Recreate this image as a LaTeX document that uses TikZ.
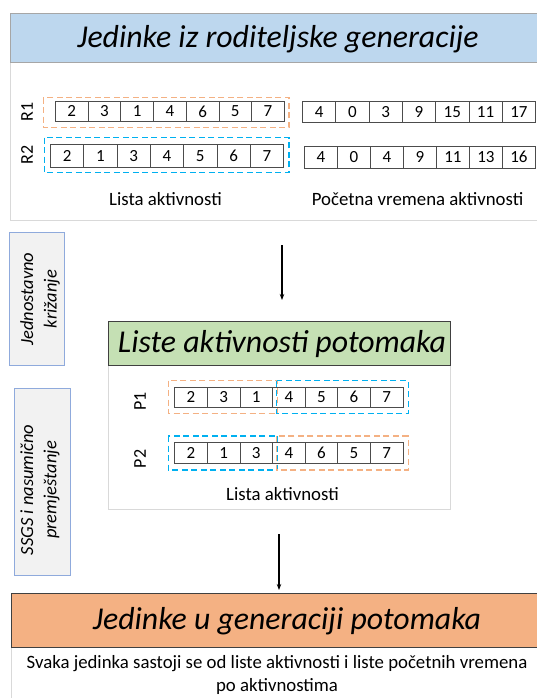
\documentclass[tikz,border=0pt]{standalone}
\usepackage{fontspec}
\setmainfont{Carlito}
\usetikzlibrary{arrows.meta}
\definecolor{hblue}{HTML}{BDD7EE}
\definecolor{hgreen}{HTML}{C5E0B4}
\definecolor{horange}{HTML}{F4B183}
\definecolor{dorange}{HTML}{F4B183}
\definecolor{dblue}{HTML}{00B0F0}
\definecolor{sidefill}{HTML}{F2F2F2}
\definecolor{sideborder}{HTML}{8FAADC}
\definecolor{panelborder}{HTML}{D9D9D9}
\tikzset{
  cell/.style={draw=black!70, line width=0.9pt, inner sep=0pt, anchor=north west,
    font=\fontsize{17}{20}\selectfont},
  obox/.style={draw=dorange, dashed, dash pattern=on 6pt off 3.5pt, line width=1.5pt},
  bbox/.style={draw=dblue, dashed, dash pattern=on 6pt off 3.5pt, line width=1.5pt},
  rowlab/.style={rotate=90, font=\fontsize{18}{20}\selectfont},
  caption/.style={font=\fontsize{18.8}{21}\selectfont},
  headtxt/.style={font=\fontsize{31.8}{34}\selectfont\itshape},
  panel/.style={draw=panelborder, fill=white, line width=0.8pt},
  sidebox/.style={draw=sideborder, fill=sidefill, line width=1pt},
  sidetxt/.style={rotate=90, align=center, font=\fontsize{18.5}{23.4}\selectfont\itshape},
  arr/.style={-{Stealth[length=6pt,width=4.5pt]}, line width=1.3pt},
}
\newcommand\celllist[6]{%
  \foreach \v [count=\i] in {#6} {%
    \node[cell, minimum width=#4pt, minimum height=#5pt] (#1-\i) at ({#2+(\i-1)*#4}, #3) {\v};
  }}
\begin{document}
\begin{tikzpicture}[x=1pt,y=-1pt]
\useasboundingbox (0,0) rectangle (537,698);
% top panel and header
\draw[panel] (10,62.7) rectangle (545,220);
\node[draw=gray!70, fill=hblue, line width=0.8pt, minimum width=535pt, minimum height=49.4pt, inner sep=0pt] (h1) at (277.5,38) {};
\node[headtxt] (h1t) at (278,39) {Jedinke iz roditeljske generacije};
% R rows
\node[rowlab] (r1l) at (27,112) {R1};
\node[rowlab] (r2l) at (27,155) {R2};
\draw[obox] (43.3,97.7) rectangle (289,127.7);
\draw[bbox] (44.3,137.7) rectangle (289,172.7);
\celllist{r1}{55}{100.7}{32.7}{20.6}{2,3,1,4,6,5,7}
\celllist{r2}{50}{144.3}{33.3}{22.4}{2,1,3,4,5,6,7}
\celllist{t1}{302}{101}{33.3}{21.5}{4,0,3,9,15,11,17}
\celllist{t2}{304}{146}{33}{21.5}{4,0,4,9,11,13,16}
\node[caption] (cap1) at (165.5,199) {Lista aktivnosti};
\node[caption] (cap2) at (417.5,199) {Početna vremena aktivnosti};
% side boxes
\node[sidebox, minimum width=55pt, minimum height=132.7pt, inner sep=0pt] (s1) at (36.8,298.7) {};
\node[sidetxt] (s1t) at (40,299) {Jednostavno\\križanje};
\node[sidebox, minimum width=55.6pt, minimum height=186.7pt, inner sep=0pt] (s2) at (42.5,481.7) {};
\node[sidetxt] (s2t) at (40,490) {SSGS i nasumično\\premještanje};
% arrow 1
\coordinate (a1s) at (282,245);
\coordinate (a1e) at (282,300);
\draw[arr] (a1s) -- (a1e);
% middle panel
\draw[panel] (108,365) rectangle (450.7,509);
\node[draw=black!75, fill=hgreen, line width=0.8pt, minimum width=342.7pt, minimum height=44pt, inner sep=0pt] (h2) at (279.35,343) {};
\node[headtxt] (h2t) at (282,344) {Liste aktivnosti potomaka};
\node[rowlab] (p1l) at (140,401.5) {P1};
\node[rowlab] (p2l) at (140,459) {P2};
\draw[obox] (168.3,380.7) rectangle (277.7,413.3);
\draw[bbox] (276.7,380.7) rectangle (408.3,413.3);
\draw[bbox] (168.3,436) rectangle (277.7,470);
\draw[obox] (276.7,436) rectangle (408.3,470);
\celllist{p1}{174.3}{386.7}{32.6}{20}{2,3,1,4,5,6,7}
\celllist{p2}{174.3}{441.7}{32.6}{21.6}{2,1,3,4,6,5,7}
\node[caption] (cap3) at (282.5,494) {Lista aktivnosti};
% arrow 2
\coordinate (a2s) at (279,534);
\coordinate (a2e) at (279,590);
\draw[arr] (a2s) -- (a2e);
% bottom
\draw[panel] (11,647.3) rectangle (545,705);
\node[draw=black!75, fill=horange, line width=0.8pt, minimum width=534pt, minimum height=54pt, inner sep=0pt] (h3) at (278,620.3) {};
\node[headtxt] (h3t) at (287,621) {Jedinke u generaciji potomaka};
\node[align=center, font=\fontsize{18.8}{22.5}\selectfont, inner sep=0pt] (bt) at (277,675) {Svaka jedinka sastoji se od liste aktivnosti i liste početnih vremena\\po aktivnostima};
\end{tikzpicture}
\end{document}
